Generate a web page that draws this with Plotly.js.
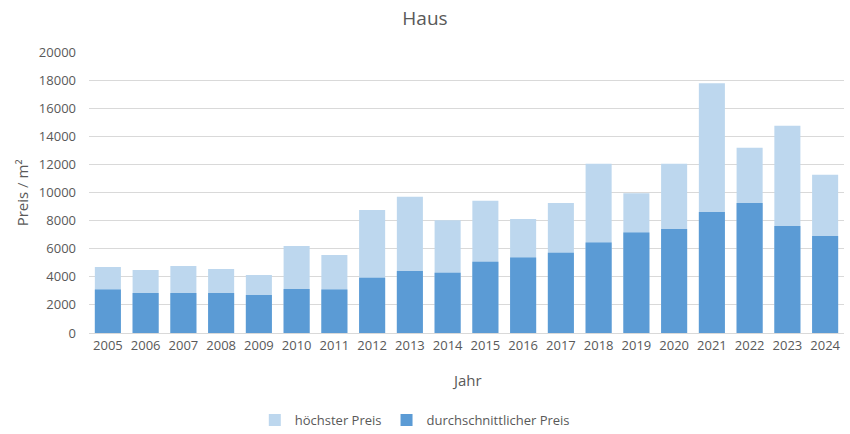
<!DOCTYPE html>
<html>
<head>
<meta charset="utf-8">
<script src="https://cdn.plot.ly/plotly-3.0.1.min.js"></script>
<style>html,body{margin:0;padding:0;background:#fff;}#chart{width:850px;height:434px;}</style>
</head>
<body>
<div id="chart"></div>
<script>
const years = ["2005","2006","2007","2008","2009","2010","2011","2012","2013","2014","2015","2016","2017","2018","2019","2020","2021","2022","2023","2024"];
const hoechsterPreis = [4700,4490,4770,4560,4130,6200,5560,8760,9690,8030,9410,8120,9260,12040,9950,12040,17770,13180,14750,11260];
const durchschnittPreis = [3090,2850,2850,2850,2710,3140,3090,3940,4420,4280,5080,5370,5720,6440,7150,7410,8620,9260,7620,6910];
const xTitle = "Jahr";
const yTitle = "Preis / m²";

const font = "Open Sans, Liberation Sans, sans-serif";
const traces = [
  {type:"bar", name:"höchster Preis", x:years, y:hoechsterPreis, marker:{color:"#BDD7EE"}, hoverinfo:"x+y+name"},
  {type:"bar", name:"durchschnittlicher Preis", x:years, y:durchschnittPreis, marker:{color:"#5B9BD5"}, hoverinfo:"x+y+name"}
];
const layout = {
  width:850, height:434,
  margin:{l:89, r:6, t:52, b:101, autoexpand:false},
  barmode:"overlay", bargap:0.31,
  paper_bgcolor:"#fff", plot_bgcolor:"#fff",
  font:{family:font, color:"#595959", size:13},
  title:{text:"Haus", x:0.5, xanchor:"center", y:0.958, yanchor:"middle", font:{size:19, color:"#595959", family:font}},
  xaxis:{type:"category", tickfont:{size:13}, showgrid:false, showline:true, linecolor:"#D9D9D9", ticks:"", automargin:false},
  yaxis:{range:[0,20000], dtick:2000, tickformat:"d", gridcolor:"#D9D9D9", zeroline:false, showline:false, ticks:"", automargin:false,
         tickfont:{size:13}, ticklabelstandoff:12},
  annotations:[
    {text:xTitle, xref:"paper", yref:"paper", x:0.5, y:-0.167, xanchor:"center", yanchor:"middle", showarrow:false, font:{size:15, color:"#595959"}},
    {text:yTitle, xref:"paper", yref:"paper", x:-0.089, y:0.5, xanchor:"center", yanchor:"middle", textangle:-90, showarrow:false, font:{size:15, color:"#595959"}}
  ],
  legend:{orientation:"h", xref:"container", x:0.488, xanchor:"center", y:-0.31, yanchor:"middle", font:{size:13}, traceorder:"normal", itemwidth:30},
  showlegend:true
};
Plotly.newPlot("chart", traces, layout, {displayModeBar:false, staticPlot:true});
</script>
</body>
</html>
